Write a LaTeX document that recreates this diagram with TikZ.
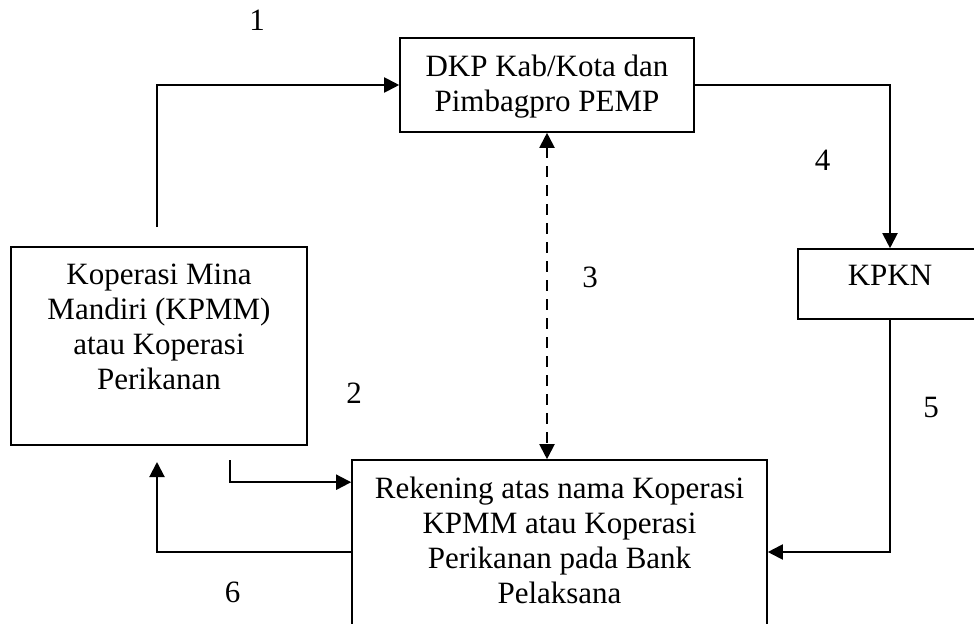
\documentclass[tikz,border=0pt]{standalone}
\usepackage{fontspec}
\setmainfont{Liberation Serif}
\usetikzlibrary{arrows.meta,positioning}

\begin{document}
\begin{tikzpicture}[x=0.5pt,y=0.5pt,
  box/.style={draw,line width=0.8pt,inner sep=0pt},
  txt/.style={align=center,inner sep=0pt,font=\fontsize{15.5}{17.5}\selectfont},
  num/.style={inner sep=0pt,font=\fontsize{15.5}{17.5}\selectfont},
  arr/.style={-{Triangle[length=7.5pt,width=7.5pt]},line width=1pt},
  dasharr/.style={{Triangle[length=7.5pt,width=7.5pt]}-{Triangle[length=7.5pt,width=7.5pt]},
                  line width=1pt,dash pattern=on 5.5pt off 4pt}
]
\useasboundingbox (0,0) rectangle (974,623);
\clip (0,0) rectangle (974,623);
% boxes
\node[box,minimum width=147pt,minimum height=47pt] (dkp) at (547,538) {};
\node[txt,below=8.5pt of dkp.north] (dkptext) {DKP Kab/Kota dan\\Pimbagpro PEMP};
\node[box,minimum width=148pt,minimum height=99pt] (kop) at (159,277) {};
\node[txt,below=8.5pt of kop.north] (koptext) {Koperasi Mina\\Mandiri (KPMM)\\atau Koperasi\\Perikanan};
\node[box,minimum width=92pt,minimum height=35pt] (kpkn) at (890,339) {};
\node[txt,below=8.5pt of kpkn.north] (kpkntext) {KPKN};
\node[box,minimum width=207.5pt,minimum height=92pt] (rek) at (559.5,71) {};
\node[txt,below=8.5pt of rek.north] (rektext) {Rekening atas nama Koperasi\\KPMM atau Koperasi\\Perikanan pada Bank\\Pelaksana};
% free ends
\coordinate (s1) at (157,396);
\coordinate (s2) at (230,163);
\coordinate (e6) at (157,161);
% connectors
\draw[arr] (s1) |- (dkp.west);
\draw[arr] (s2) |- ([yshift=-11.5pt]rek.north west);
\draw[dasharr] (dkp.south) -- (dkp.south |- rek.north);
\draw[arr] (dkp.east) -| (kpkn.north);
\draw[arr] (kpkn.south) |- (rek.east);
\draw[arr] (rek.west) -| (e6);
% numbers
\node[num] (n1) at (257,603) {1};
\node[num] (n2) at (354,230) {2};
\node[num] (n3) at (590,346) {3};
\node[num] (n4) at (822.5,463) {4};
\node[num] (n5) at (931,216) {5};
\node[num] (n6) at (232.5,31) {6};
\end{tikzpicture}
\end{document}
